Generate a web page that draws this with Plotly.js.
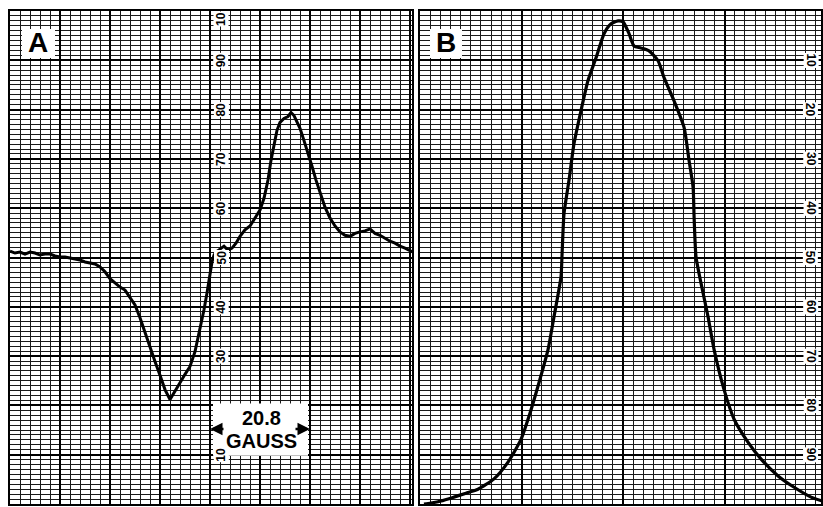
<!DOCTYPE html>
<html>
<head>
<meta charset="utf-8">
<script src="https://cdn.plot.ly/plotly-3.0.1.min.js"></script>
<style>html,body{margin:0;padding:0;background:#fff;}#chart{width:823px;height:507px;}</style>
</head>
<body>
<div id="chart"></div>
<script>
// Panel A: derivative trace (x in chart divisions, y in chart units 0-100)
var aX = [0,1,2,3,4,5,6,7,8,9,10,11,12,13,14,15,16,17,18,19,20,21,22,23,24,25,26,27,28,29,30,31,32,33,34,35,36,37,38,38.8,39.4,40,40.4,40.8,41.2,42,42.8,43.6,44.4,45.2,46,47,48,49,50,50.8,51.6,52.2,52.8,53.4,54,54.8,55.6,56.2,56.8,57.4,58,58.8,59.6,60.4,61.2,62,63,64,65,66,67,68,69,70,71,72,73,74,75,76,77,78,79,80,80.6];
var aY = [51.3,50.9,51.1,50.7,51.1,50.9,50.5,50.7,50.7,50.3,50.1,50.1,49.9,49.7,49.5,49.1,48.9,48.7,48.1,47.1,45.7,44.8,44.0,43.4,42.0,40.4,37.8,34.7,31.7,28.9,26.1,23.2,21.2,22.8,24.6,26.3,27.9,30.9,35.4,39.4,42.8,46.5,49.1,50.5,51.1,51.7,52.3,51.5,51.9,52.9,54.3,55.6,56.4,58.0,59.6,62.0,65.7,69.7,72.7,75.8,77.4,78.2,78.6,79.4,78.8,77.6,76.2,73.7,71.3,68.5,65.7,63.2,60.2,58.0,56.4,55.2,54.5,54.3,54.9,55.2,55.4,55.8,54.9,54.5,53.9,53.3,52.9,52.3,51.9,51.3,51.1];
// Panel B: absorption trace (y increases downward, 0 at top)
var bX = [0.39,1.08,2.07,3.35,4.53,5.71,7.29,8.67,9.95,10.74,11.72,12.61,13.20,13.89,13.99,14.19,14.68,15.17,15.86,16.55,17.34,18.13,18.82,19.51,20.00,20.59,21.08,21.77,22.56,23.45,24.04,25.02,26.01,26.50,26.90,27.00,27.19,27.68,28.37,28.97,29.95,30.94,32.32,33.60,35.27,36.85,38.52,39.61];
var bY = [100,99.8,99.4,98.6,97.8,97.0,94.9,91.5,86.9,82.2,75.4,68.7,62.0,53.9,49.5,41.0,34.3,26.9,20.2,14.1,9.5,4.6,2.6,2.0,2.2,4.6,7.1,7.5,8.1,10.1,13.5,18.2,23.6,30.3,35.8,41.8,49.9,55.2,62.0,68.7,76.8,82.8,87.5,90.9,94.3,96.6,98.6,99.4];
// Scale labels printed on the chart paper
var aLabelVals = [10,30,40,50,60,70,80,90];
var bLabelVals = [10,20,30,40,50,60,70,80,90];
var panelLetters = ["A","B"];
var spanText = ["20.8","GAUSS"];

var W = 823, H = 507;
function px(x){return x/W;}
function py(y){return 1 - y/H;}

var labFont = {family:"Liberation Sans, Arial, sans-serif", size:12, color:"#000"};
var annotations = [];
aLabelVals.forEach(function(v){
  annotations.push({xref:"x", yref:"y", x:42.2, y:v, xanchor:"center", yanchor:"middle", text:"<b>"+v+"</b>", showarrow:false,
    textangle:-90, font:labFont, bgcolor:"#fff", borderpad:0});
});
annotations.push({xref:"x", yref:"y", x:42.2, y:100, xanchor:"center", yanchor:"top", text:"<b>10</b>", showarrow:false,
    textangle:-90, font:labFont, bgcolor:"#fff", borderpad:0});
bLabelVals.forEach(function(v){
  annotations.push({xref:"x2", yref:"y2", x:38.5, y:v, xanchor:"center", yanchor:"middle", text:"<b>"+v+"</b>", showarrow:false,
    textangle:90, font:labFont, bgcolor:"#fff", borderpad:0});
});
// panel letters
var letterFont = {family:"Liberation Sans, Arial, sans-serif", size:28, color:"#000"};
annotations.push({xref:"paper", yref:"paper", x:px(38), y:py(43), xanchor:"center", yanchor:"middle", text:"<b>"+panelLetters[0]+"</b>", showarrow:false, font:letterFont});
annotations.push({xref:"paper", yref:"paper", x:px(446), y:py(43), xanchor:"center", yanchor:"middle", text:"<b>"+panelLetters[1]+"</b>", showarrow:false, font:letterFont});
// span box text
var boxFont = {family:"Liberation Sans, Arial, sans-serif", size:20, color:"#000"};
annotations.push({xref:"x", yref:"y", x:50.2, y:17.4, xanchor:"center", yanchor:"middle", text:"<b>"+spanText[0]+"</b>", showarrow:false, font:boxFont});
annotations.push({xref:"x", yref:"y", x:50.2, y:12.7, xanchor:"center", yanchor:"middle", text:"<b>"+spanText[1]+"</b>", showarrow:false, font:boxFont});
// arrows
annotations.push({xref:"x", yref:"y", x:40.0, y:15.2, ax:15, ay:0, text:"", showarrow:true, arrowhead:2, arrowsize:1, arrowwidth:2.5, arrowcolor:"#000"});
annotations.push({xref:"x", yref:"y", x:60.0, y:15.2, ax:-16, ay:0, text:"", showarrow:true, arrowhead:2, arrowsize:1, arrowwidth:2.5, arrowcolor:"#000"});

var shapes = [
  {type:"rect", xref:"paper", yref:"paper", x0:px(22), x1:px(55), y0:py(58), y1:py(29), fillcolor:"#fff", line:{width:0}, layer:"above"},
  {type:"rect", xref:"paper", yref:"paper", x0:px(430), x1:px(462), y0:py(58), y1:py(29), fillcolor:"#fff", line:{width:0}, layer:"above"},
  {type:"rect", xref:"x", yref:"y", x0:40.6, x1:59.6, y0:9.8, y1:20.4, fillcolor:"#fff", line:{width:0}, layer:"above"}
];

function xa(domain, range, dt, mdt){
  return {domain:domain, range:range, showgrid:true, dtick:dt, tick0:0, gridcolor:"#000", gridwidth:2,
    minor:{dtick:mdt, tick0:0, showgrid:true, gridcolor:"#1a1a1a", gridwidth:1, ticks:""},
    showticklabels:false, ticks:"", zeroline:false, showline:true, mirror:true, linecolor:"#000", linewidth:2, fixedrange:true};
}
var yDom = [py(504), py(11)];
var layout = {
  width:W, height:H, margin:{l:0,r:0,t:0,b:0}, paper_bgcolor:"#fff", plot_bgcolor:"#fff", showlegend:false,
  xaxis: xa([px(10), px(412)], [0, 80.4], 10, 2),
  yaxis: Object.assign(xa(yDom, [0,100], 10, 1), {anchor:"x"}),
  xaxis2: Object.assign(xa([px(420), px(821)], [0, 39.5], 10, 1), {anchor:"y2"}),
  yaxis2: Object.assign(xa(yDom, [100,0], 10, 1), {anchor:"x2"}),
  annotations: annotations, shapes: shapes
};
layout.xaxis.anchor = "y";

var traces = [
  {x:aX, y:aY, xaxis:"x", yaxis:"y", mode:"lines", line:{color:"#000", width:3}, hoverinfo:"skip"},
  {x:bX, y:bY, xaxis:"x2", yaxis:"y2", mode:"lines", line:{color:"#000", width:3.2, shape:"spline", smoothing:0.6}, hoverinfo:"skip"}
];
Plotly.newPlot("chart", traces, layout, {staticPlot:true, displayModeBar:false});
</script>
</body>
</html>
